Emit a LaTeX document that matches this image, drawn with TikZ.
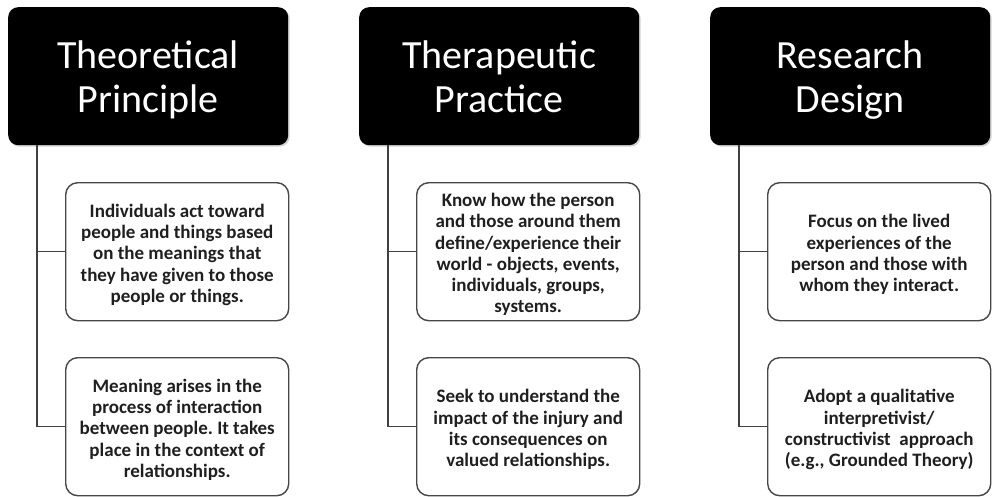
\documentclass[tikz,border=0pt]{standalone}
\usepackage{fontspec}
\setmainfont{Carlito}
\usetikzlibrary{shadows}
\frenchspacing
% struts that fix the vertical placement of multi-line node text
\newcommand\hdtop{\rule{0pt}{38.6pt}}
\newcommand\hdbot{\rule[-10pt]{0pt}{0pt}}
\newcommand\bxtop{\rule{0pt}{21pt}}
\newcommand\bxbot{\rule[-5pt]{0pt}{0pt}}
\begin{document}
\begin{tikzpicture}[x=1pt,y=-1pt,
  header/.style={rounded corners=10pt, fill=black, text=white,
    font=\fontsize{40}{44}\selectfont, minimum width=280pt, minimum height=138pt,
    align=center, inner sep=0pt, anchor=north west,
    drop shadow={opacity=0.35, shadow xshift=1.5pt, shadow yshift=-1.5pt}},
  itembox/.style={draw=black!72, line width=1.4pt, rounded corners=12pt, fill=white,
    text=black!88, minimum width=223pt, minimum height=138pt, align=center,
    inner sep=0pt, anchor=north west, font=\bfseries\fontsize{19}{21.3}\selectfont},
  conn/.style={draw=black!75, line width=1.4pt}]
\useasboundingbox (0,0) rectangle (992,497);

% column headers
\node[header] (h1) at (8,7) {\hdtop Theoretical\\Principle\hdbot};
\node[header] (h2) at (359,7) {\hdtop Therapeutic\\Practice\hdbot};
\node[header] (h3) at (710,7) {\hdtop Research\\Design\hdbot};

% column 1
\node[itembox] (b11) at (65,182) {\bxtop Individuals act toward\\people and things based\\on the meanings that\\they have given to those\\people or things.\bxbot};
\node[itembox] (b12) at (65,357) {\bxtop Meaning arises in the\\process of interaction\\between people. It takes\\place in the context of\\relationships.\bxbot};

% column 2
\node[itembox] (b21) at (416,182) {\bxtop Know how the person\\and those around them\\define/experience their\\world - objects, events,\\individuals, groups,\\systems.\bxbot};
\node[itembox] (b22) at (416,357) {\bxtop Seek to understand the\\impact of the injury and\\its consequences on\\valued relationships.\bxbot};

% column 3
\node[itembox] (b31) at (767,182) {\bxtop Focus on the lived\\experiences of the\\person and those with\\whom they interact.\bxbot};
\node[itembox] (b32) at (767,357) {\bxtop Adopt a qualitative\\interpretivist/\\constructivist\ \ approach\\(e.g., Grounded Theory)\bxbot};

% connectors
\draw[conn] ([xshift=29pt]h1.south west) |- (b11.west);
\draw[conn] ([xshift=29pt]h1.south west) |- (b12.west);
\draw[conn] ([xshift=29pt]h2.south west) |- (b21.west);
\draw[conn] ([xshift=29pt]h2.south west) |- (b22.west);
\draw[conn] ([xshift=29pt]h3.south west) |- (b31.west);
\draw[conn] ([xshift=29pt]h3.south west) |- (b32.west);
\end{tikzpicture}
\end{document}
